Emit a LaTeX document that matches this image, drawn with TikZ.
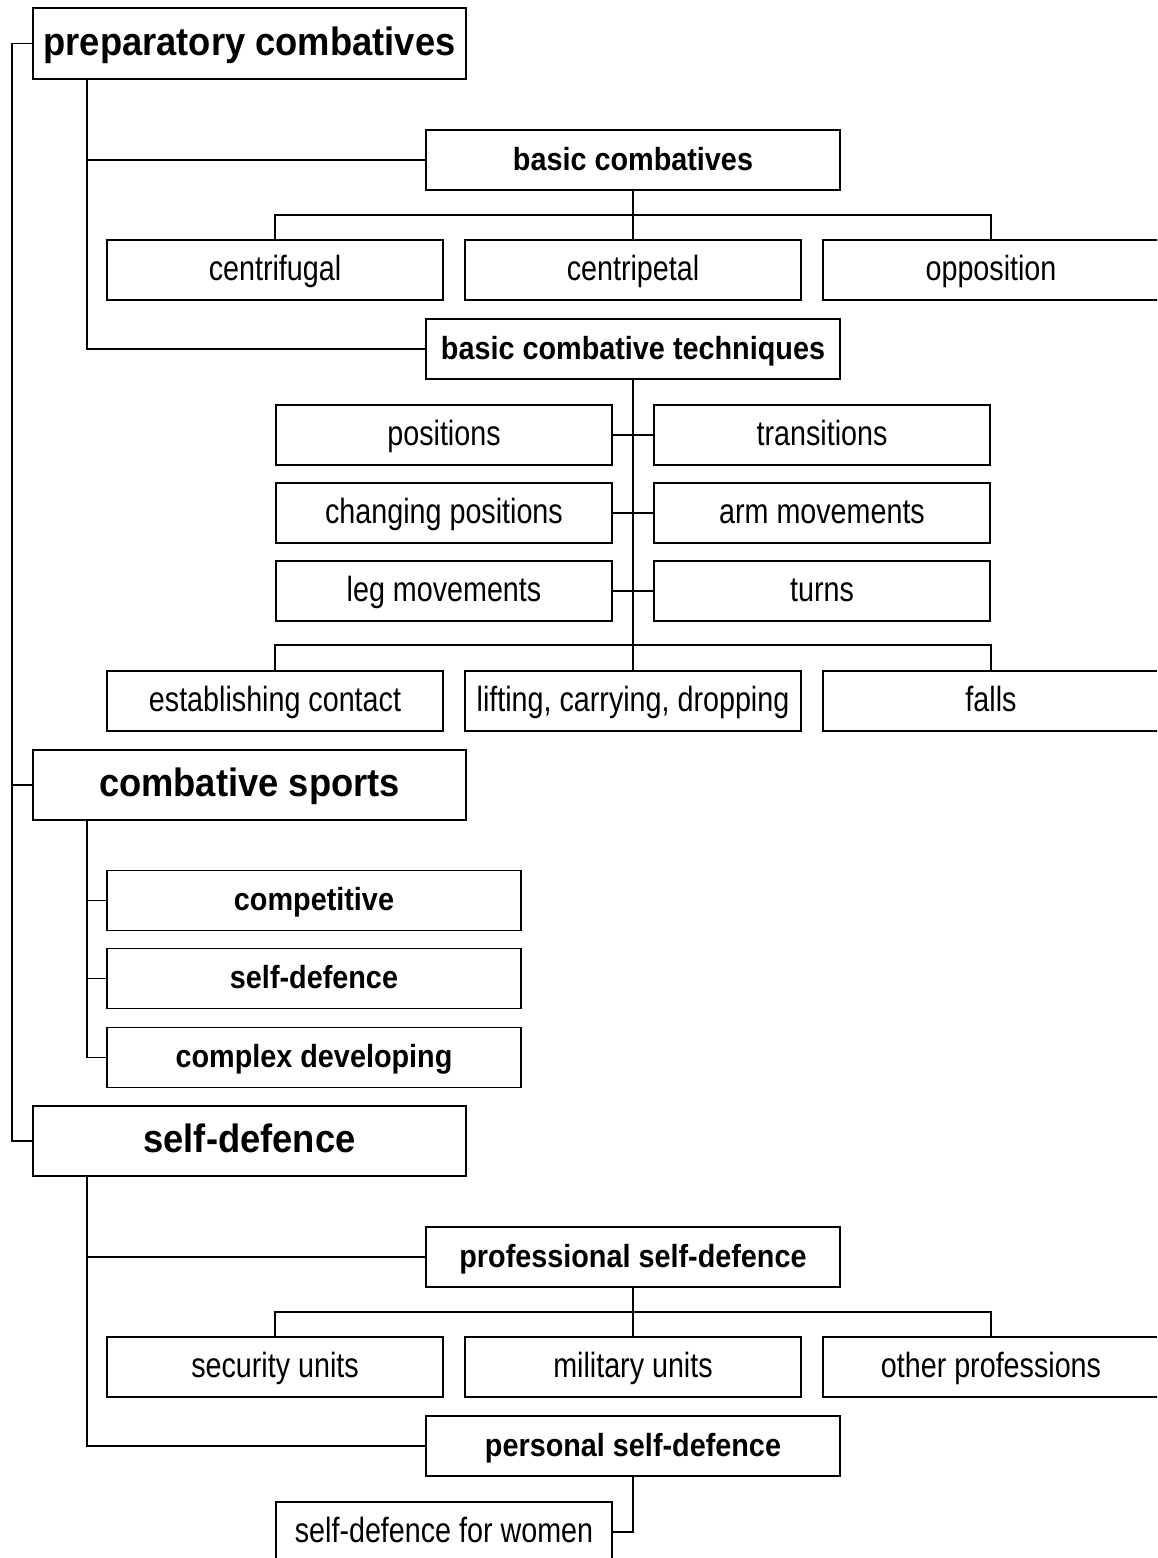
\documentclass[tikz,border=0pt]{standalone}
\usepackage{fontspec}
\setmainfont{Liberation Sans}
\newfontfamily\regfont{Liberation Sans}[FakeStretch=0.82]
\newfontfamily\boldfont{Liberation Sans Bold}[FakeStretch=0.9]
\newfontfamily\bigfont{Liberation Sans Bold}[FakeStretch=0.92]
\begin{document}
\begin{tikzpicture}[x=1pt,y=-1pt,
  line width=1.9pt,
  box/.style={draw, fill=white, inner sep=0pt, minimum width=336pt, minimum height=60pt,
    text height=25pt, text depth=5pt, font=\regfont\fontsize{35}{40}\selectfont},
  midbox/.style={box, minimum width=414pt, font=\boldfont\fontsize{32}{38}\selectfont},
  bigbox/.style={box, minimum width=433pt, minimum height=71pt, text height=29pt, text depth=6pt,
    font=\bigfont\fontsize{39.5}{46}\selectfont}]
\useasboundingbox (0,0) rectangle (1157,1558);
\clip (0,0) rectangle (1157,1558);
\fill[white] (0,0) rectangle (1157,1558);

% top-level
\node[bigbox] (pc) at (249.5,43.5) {preparatory combatives};
\node[bigbox, minimum height=70pt] (cs) at (249.5,785) {combative sports};
\node[bigbox, minimum height=70pt] (sd) at (249.5,1141) {self-defence};

% basic combatives
\node[midbox] (bc) at (633,160) {basic combatives};
\node[box] (cf) at (275,270) {centrifugal};
\node[box] (cp) at (633,270) {centripetal};
\node[box] (op) at (991,270) {opposition};

% basic combative techniques
\node[midbox] (bct) at (633,349) {basic combative techniques};
\node[box] (pos) at (444,435) {positions};
\node[box] (tr) at (822,435) {transitions};
\node[box] (chp) at (444,513) {changing positions};
\node[box] (arm) at (822,513) {arm movements};
\node[box] (leg) at (444,591) {leg movements};
\node[box] (turn) at (822,591) {turns};
\node[box] (est) at (275,701) {establishing contact};
\node[box] (lift) at (633,701) {lifting, carrying, dropping};
\node[box] (fall) at (991,701) {falls};

% combative sports
\node[midbox] (comp) at (314,900.5) {competitive};
\node[midbox] (sdc) at (314,978.5) {self-defence};
\node[midbox] (cd) at (314,1057.5) {complex developing};

% self-defence
\node[midbox] (psd) at (633,1257) {professional self-defence};
\node[box] (su) at (275,1367) {security units};
\node[box] (mu) at (633,1367) {military units};
\node[box] (other) at (991,1367) {other professions};
\node[midbox] (pers) at (633,1446) {personal self-defence};
\node[box] (sdw) at (444,1532) {self-defence for women};

% helper coordinates
\coordinate (spine) at (12,0);
\coordinate (inner) at (87,0);
\coordinate (busA) at (0,215);
\coordinate (busB) at (0,645);
\coordinate (busC) at (0,1312);

% left spine
\draw (pc.west) -- (pc.west -| spine) |- (sd.west);
\draw (cs.west) -- (cs.west -| spine);

% preparatory combatives branch
\draw (inner |- pc.south) |- (bct.west);
\draw (bc.west) -- (bc.west -| inner);
\draw (bc.south) -- (cp.north);
\draw (cf.north) |- (busA -| cp.north) -| (op.north);
\draw (bct.south) -- (lift.north);
\draw (pos.east) -- (tr.west);
\draw (chp.east) -- (arm.west);
\draw (leg.east) -- (turn.west);
\draw (est.north) |- (busB -| lift.north) -| (fall.north);

% combative sports branch
\draw (inner |- cs.south) |- (cd.west);
\draw (comp.west) -- (comp.west -| inner);
\draw (sdc.west) -- (sdc.west -| inner);

% self-defence branch
\draw (inner |- sd.south) |- (pers.west);
\draw (psd.west) -- (psd.west -| inner);
\draw (psd.south) -- (mu.north);
\draw (su.north) |- (busC -| mu.north) -| (other.north);
\draw (pers.south) |- (sdw.east);
\end{tikzpicture}
\end{document}
